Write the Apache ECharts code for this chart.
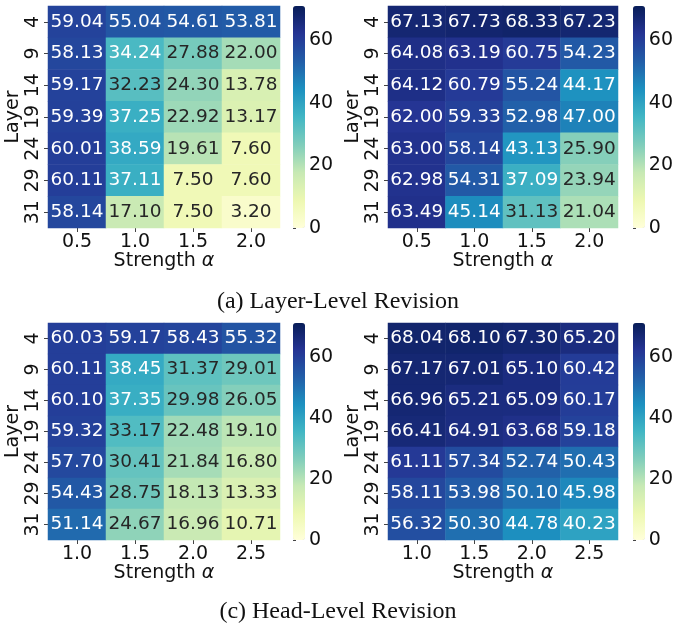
<!DOCTYPE html>
<html><head><meta charset="utf-8">
<script src="https://cdn.jsdelivr.net/npm/echarts@6/dist/echarts.min.js"></script>
<style>html,body{margin:0;padding:0;background:#fff}#c{width:676px;height:627px}</style>
</head><body><div id="c"></div>
<script>
const layers = ['4','9','14','19','24','29','31'];
const strengthLayer = ['0.5','1.0','1.5','2.0'];
const strengthHead = ['1.0','1.5','2.0','2.5'];
const colorbarTicks = [0,20,40,60];
const captionA = '(a) Layer-Level Revision';
const captionC = '(c) Head-Level Revision';

const layerLeft = [
  [59.04,55.04,54.61,53.81],
  [58.13,34.24,27.88,22.00],
  [59.17,32.23,24.30,13.78],
  [59.39,37.25,22.92,13.17],
  [60.01,38.59,19.61,7.60],
  [60.11,37.11,7.50,7.60],
  [58.14,17.10,7.50,3.20]
];
const layerRight = [
  [67.13,67.73,68.33,67.23],
  [64.08,63.19,60.75,54.23],
  [64.12,60.79,55.24,44.17],
  [62.00,59.33,52.98,47.00],
  [63.00,58.14,43.13,25.90],
  [62.98,54.31,37.09,23.94],
  [63.49,45.14,31.13,21.04]
];
const headLeft = [
  [60.03,59.17,58.43,55.32],
  [60.11,38.45,31.37,29.01],
  [60.10,37.35,29.98,26.05],
  [59.32,33.17,22.48,19.10],
  [57.70,30.41,21.84,16.80],
  [54.43,28.75,18.13,13.33],
  [51.14,24.67,16.96,10.71]
];
const headRight = [
  [68.04,68.10,67.30,65.20],
  [67.17,67.01,65.10,60.42],
  [66.96,65.21,65.09,60.17],
  [66.41,64.91,63.68,59.18],
  [61.11,57.34,52.74,50.43],
  [58.11,53.98,50.10,45.98],
  [56.32,50.30,44.78,40.23]
];

const VMIN = 0, VMAX = 71;
const YlGnBu = ['#ffffd9','#edf8b1','#c7e9b4','#7fcdbb','#41b6c4','#1d91c0','#225ea8','#253494','#081d58'];
const FONT = 'DejaVu Sans';
const TXT = '#111';

const panels = [
  {mat: layerLeft, cats: strengthLayer, left: 48, top: 6, width: 232, height: 222, cbLeft: 293},
  {mat: layerRight, cats: strengthLayer, left: 388, top: 6, width: 230, height: 222, cbLeft: 633},
  {mat: headLeft, cats: strengthHead, left: 48, top: 323, width: 232, height: 217, cbLeft: 293},
  {mat: headRight, cats: strengthHead, left: 388, top: 323, width: 230, height: 217, cbLeft: 633}
];

const grid = [], xAxis = [], yAxis = [], series = [], visualMap = [];
panels.forEach((p, i) => {
  grid.push({left: p.left, top: p.top, width: p.width, height: p.height, containLabel: false});
  xAxis.push({
    type: 'category', gridIndex: i, data: p.cats, position: 'bottom',
    axisLine: {show: false},
    axisTick: {show: true, alignWithLabel: true, interval: 0, length: 4, lineStyle: {color: '#444'}},
    axisLabel: {fontFamily: FONT, fontSize: 19, color: TXT, margin: 5, interval: 0, hideOverlap: false},
    splitLine: {show: false}, splitArea: {show: false},
    name: 'Strength {a|α}', nameLocation: 'middle', nameGap: 24, nameMoveOverlap: false,
    nameTextStyle: {fontFamily: FONT, fontSize: 19, color: TXT,
      rich: {a: {fontFamily: FONT, fontSize: 19, fontStyle: 'italic', color: TXT}}}
  });
  yAxis.push({
    type: 'category', gridIndex: i, data: layers, inverse: true,
    axisLine: {show: false},
    axisTick: {show: true, alignWithLabel: true, interval: 0, length: 4, lineStyle: {color: '#444'}},
    axisLabel: {fontFamily: FONT, fontSize: 19, color: TXT, rotate: 90, margin: 5, interval: 0, hideOverlap: false},
    splitLine: {show: false}, splitArea: {show: false},
    name: 'Layer', nameLocation: 'middle', nameRotate: 90, nameGap: 25, nameMoveOverlap: false,
    nameTextStyle: {fontFamily: FONT, fontSize: 19, color: TXT}
  });
  const data = [];
  p.mat.forEach((row, r) => row.forEach((v, c) => {
    data.push({value: [c, r, v], label: {color: v > 33.7 ? '#ffffff' : '#262626'}});
  }));
  series.push({
    type: 'heatmap', xAxisIndex: i, yAxisIndex: i, data: data,
    label: {show: true, fontFamily: FONT, fontSize: 18.5,
      formatter: (d) => d.value[2].toFixed(2)},
    emphasis: {disabled: true},
    itemStyle: {borderWidth: 0}
  });
  visualMap.push({
    type: 'continuous', seriesIndex: i, min: VMIN, max: VMAX,
    calculable: false, realtime: false, hoverLink: false,
    left: p.cbLeft, top: p.top, itemWidth: 12, itemHeight: p.height,
    padding: 0, text: null, showLabel: false,
    inRange: {color: YlGnBu}
  });
});

// colorbar tick axes
panels.forEach((p, i) => {
  const gi = grid.length;
  grid.push({left: p.cbLeft, top: p.top, width: 12, height: p.height, containLabel: false});
  xAxis.push({type: 'value', gridIndex: gi, show: false, min: 0, max: 1});
  yAxis.push({
    type: 'value', gridIndex: gi, position: 'right', min: VMIN, max: VMAX,
    axisLine: {show: false},
    axisTick: {show: true, length: 3, customValues: colorbarTicks, lineStyle: {color: '#444'}},
    axisLabel: {fontFamily: FONT, fontSize: 19, color: TXT, margin: 4, customValues: colorbarTicks},
    splitLine: {show: false}
  });
});

const chart = echarts.init(document.getElementById('c'), null, {renderer: 'canvas'});
chart.setOption({
  animation: false,
  backgroundColor: '#fff',
  title: [
    {text: captionA, left: 'center', top: 285,
      textStyle: {fontFamily: 'Liberation Serif', fontSize: 24, fontWeight: 'normal', color: TXT}},
    {text: captionC, left: 'center', top: 595,
      textStyle: {fontFamily: 'Liberation Serif', fontSize: 24, fontWeight: 'normal', color: TXT}}
  ],
  grid, xAxis, yAxis, series, visualMap
});
</script></body></html>
